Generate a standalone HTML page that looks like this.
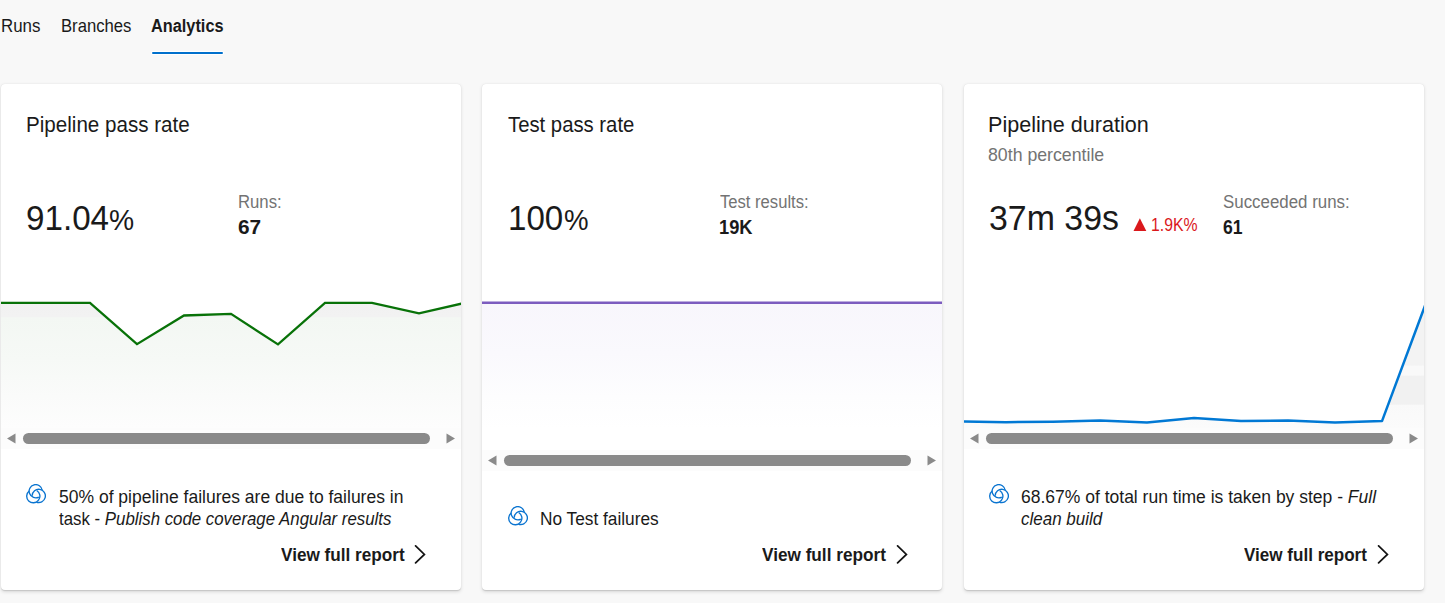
<!DOCTYPE html>
<html><head><meta charset="utf-8"><title>Analytics</title>
<style>
*{box-sizing:border-box;margin:0;padding:0}
html,body{width:1445px;height:603px;overflow:hidden;background:#f8f8f8;font-family:"Liberation Sans",sans-serif}
.t{position:absolute;white-space:nowrap;line-height:1}
.ic{position:absolute;display:block}
.card{position:absolute;top:84px;width:460px;height:506px;background:#fff;border-radius:4px;overflow:hidden;
 box-shadow:0 1.6px 3.6px rgba(0,0,0,.13),0 0.3px 0.9px rgba(0,0,0,.11)}
.chart{position:absolute;left:0;top:0}
.track{position:absolute;left:0;width:460px;height:21px;background:#fcfcfc}
.thumb{position:absolute;height:11px;border-radius:6px;background:#8a8a8a}
.tabline{position:absolute;left:152px;top:52px;width:71px;height:2px;border-radius:1px;background:#0070cc;box-shadow:0 0 0 1px #fff}
</style></head><body>
<div class="t" style="left:1.00px;top:16.75px;font-size:18.25px;font-weight:400;color:#1a1a1a;font-style:normal;transform:scaleX(0.925);transform-origin:0 0;">Runs</div>
<div class="t" style="left:60.50px;top:16.75px;font-size:18.25px;font-weight:400;color:#1a1a1a;font-style:normal;transform:scaleX(0.913);transform-origin:0 0;">Branches</div>
<div class="t" style="left:151.00px;top:16.75px;font-size:18.25px;font-weight:700;color:#1a1a1a;font-style:normal;transform:scaleX(0.894);transform-origin:0 0;">Analytics</div>
<div class="tabline"></div>
<div class="card" style="left:1px">
<svg class="chart" width="460" height="506" viewBox="0 0 460 506"><defs><linearGradient id="g1" gradientUnits="userSpaceOnUse" x1="0" y1="218" x2="0" y2="344"><stop offset="0" stop-color="#f1f1f1"/><stop offset="0.115" stop-color="#f2f2f2"/><stop offset="0.125" stop-color="#f3f7f3"/><stop offset="0.45" stop-color="#f6f9f6"/><stop offset="0.75" stop-color="#fafbfa"/><stop offset="1" stop-color="#fdfdfd"/></linearGradient></defs><polygon points="-5.0,218.8 42.0,218.8 89.0,218.8 136.0,260.2 183.0,231.5 230.0,229.9 277.0,260.4 324.0,218.8 371.0,218.8 418.0,229.4 465.0,218.6 465.0,344 -5.0,344" fill="url(#g1)"/><polyline points="-5.0,218.8 42.0,218.8 89.0,218.8 136.0,260.2 183.0,231.5 230.0,229.9 277.0,260.4 324.0,218.8 371.0,218.8 418.0,229.4 465.0,218.6" fill="none" stroke="#087208" stroke-width="2.3" stroke-linejoin="miter"/></svg>
<div class="track" style="top:344px;"></div>
<svg class="ic" style="left:5px;top:349px" width="10" height="11" viewBox="0 0 10 11"><path d="M9.5 0.5 L9.5 10.5 L1 5.5 Z" fill="#8a8a8a"/></svg>
<div class="thumb" style="left:22px;top:349px;width:407px;"></div>
<svg class="ic" style="left:445px;top:349px" width="10" height="11" viewBox="0 0 10 11"><path d="M0.5 0.5 L0.5 10.5 L9 5.5 Z" fill="#8a8a8a"/></svg>
</div>
<div class="card" style="left:482px">
<svg class="chart" width="460" height="506" viewBox="0 0 460 506"><defs><linearGradient id="g2" gradientUnits="userSpaceOnUse" x1="0" y1="218" x2="0" y2="345"><stop offset="0" stop-color="#f8f6fc"/><stop offset="0.4" stop-color="#faf9fd"/><stop offset="0.75" stop-color="#fdfdfe"/><stop offset="1" stop-color="#ffffff"/></linearGradient></defs><rect x="0" y="219" width="460" height="148" fill="url(#g2)"/><line x1="0" y1="218.8" x2="460" y2="218.8" stroke="#7c5cbf" stroke-width="2.5"/></svg>
<div class="track" style="top:366px;"></div>
<svg class="ic" style="left:5px;top:371px" width="10" height="11" viewBox="0 0 10 11"><path d="M9.5 0.5 L9.5 10.5 L1 5.5 Z" fill="#8a8a8a"/></svg>
<div class="thumb" style="left:22px;top:371px;width:407px;"></div>
<svg class="ic" style="left:445px;top:371px" width="10" height="11" viewBox="0 0 10 11"><path d="M0.5 0.5 L0.5 10.5 L9 5.5 Z" fill="#8a8a8a"/></svg>
</div>
<div class="card" style="left:964px">
<svg class="chart" width="460" height="506" viewBox="0 0 460 506"><defs><linearGradient id="g3" gradientUnits="userSpaceOnUse" x1="0" y1="218" x2="0" y2="344"><stop offset="0" stop-color="#f3f3f3"/><stop offset="0.5" stop-color="#f3f3f3"/><stop offset="0.51" stop-color="#f9f9f9"/><stop offset="0.58" stop-color="#f9f9f9"/><stop offset="0.59" stop-color="#f1f1f1"/><stop offset="0.81" stop-color="#f1f1f1"/><stop offset="0.82" stop-color="#f9f9f9"/><stop offset="1" stop-color="#fbfbfb"/></linearGradient></defs><polygon points="-5.0,337.5 42.0,338.2 89.0,337.8 136.0,336.5 183.0,338.6 230.0,333.9 277.0,337.1 324.0,336.6 371.0,338.6 418.0,337.1 465.0,211.0 465.0,344 -5.0,344" fill="url(#g3)"/><polyline points="-5.0,337.5 42.0,338.2 89.0,337.8 136.0,336.5 183.0,338.6 230.0,333.9 277.0,337.1 324.0,336.6 371.0,338.6 418.0,337.1 465.0,211.0" fill="none" stroke="#0078d4" stroke-width="2.5" stroke-linejoin="round"/></svg>
<div class="track" style="top:344px;"></div>
<svg class="ic" style="left:5px;top:349px" width="10" height="11" viewBox="0 0 10 11"><path d="M9.5 0.5 L9.5 10.5 L1 5.5 Z" fill="#8a8a8a"/></svg>
<div class="thumb" style="left:22px;top:349px;width:407px;"></div>
<svg class="ic" style="left:445px;top:349px" width="10" height="11" viewBox="0 0 10 11"><path d="M0.5 0.5 L0.5 10.5 L9 5.5 Z" fill="#8a8a8a"/></svg>
</div>
<div class="t" style="left:25.70px;top:115.20px;font-size:21.5px;font-weight:400;color:#1a1a1a;font-style:normal;transform:scaleX(0.958);transform-origin:0 0;">Pipeline pass rate</div>
<div class="t" style="left:25.50px;top:201.25px;font-size:35.5px;font-weight:400;color:#1a1a1a;font-style:normal;transform:scaleX(0.935);transform-origin:0 0;">91.04</div>
<div class="t" style="left:108.70px;top:205.12px;font-size:29.75px;font-weight:400;color:#1a1a1a;font-style:normal;transform:scaleX(0.95);transform-origin:0 0;">%</div>
<div class="t" style="left:237.90px;top:193.35px;font-size:18.25px;font-weight:400;color:#737373;font-style:normal;transform:scaleX(0.916);transform-origin:0 0;">Runs:</div>
<div class="t" style="left:238.10px;top:216.42px;font-size:21.0px;font-weight:700;color:#1a1a1a;font-style:normal;transform:scaleX(0.991);transform-origin:0 0;">67</div>
<svg class="ic" style="left:26px;top:484px" width="20" height="20" viewBox="0 0 20 20"><path d="M12.82 13.04 A6.6 6.6 0 1 1 16.26 6.30" fill="none" stroke="#0a74d0" stroke-width="1.35" stroke-linecap="butt"/><path d="M6.18 11.72 A6.6 6.6 0 1 1 10.35 18.04" fill="none" stroke="#0a74d0" stroke-width="1.35" stroke-linecap="butt"/><path d="M10.68 6.52 A6.6 6.6 0 1 1 3.13 7.07" fill="none" stroke="#0a74d0" stroke-width="1.35" stroke-linecap="butt"/></svg>
<div class="t" style="left:58.60px;top:488.45px;font-size:18.25px;font-weight:400;color:#1a1a1a;font-style:normal;transform:scaleX(0.959);transform-origin:0 0;">50% of pipeline failures are due to failures in</div>
<div class="t" style="left:59.10px;top:510.45px;font-size:18.25px;font-weight:400;color:#1a1a1a;font-style:normal;transform:scaleX(0.922);transform-origin:0 0;">task - <i>Publish code coverage Angular results</i></div>
<div class="t" style="left:280.80px;top:545.85px;font-size:18.25px;font-weight:700;color:#1a1a1a;font-style:normal;transform:scaleX(0.94);transform-origin:0 0;">View full report</div>
<svg class="ic" style="left:414px;top:545px" width="12" height="19" viewBox="0 0 12 19"><path d="M1.6 0.9 L10.4 9.4 L1.6 17.9" fill="none" stroke="#141414" stroke-width="1.75" stroke-linecap="round" stroke-linejoin="miter"/></svg>
<div class="t" style="left:508.00px;top:114.71px;font-size:21.25px;font-weight:400;color:#1a1a1a;font-style:normal;transform:scaleX(0.955);transform-origin:0 0;">Test pass rate</div>
<div class="t" style="left:507.70px;top:200.36px;font-size:35.25px;font-weight:400;color:#1a1a1a;font-style:normal;transform:scaleX(0.938);transform-origin:0 0;">100</div>
<div class="t" style="left:564.00px;top:205.02px;font-size:29.75px;font-weight:400;color:#1a1a1a;font-style:normal;transform:scaleX(0.929);transform-origin:0 0;">%</div>
<div class="t" style="left:719.80px;top:193.35px;font-size:18.25px;font-weight:400;color:#737373;font-style:normal;transform:scaleX(0.91);transform-origin:0 0;">Test results:</div>
<div class="t" style="left:719.00px;top:218.48px;font-size:19.75px;font-weight:700;color:#1a1a1a;font-style:normal;transform:scaleX(0.926);transform-origin:0 0;">19K</div>
<svg class="ic" style="left:507.5px;top:506px" width="20" height="20" viewBox="0 0 20 20"><path d="M12.82 13.04 A6.6 6.6 0 1 1 16.26 6.30" fill="none" stroke="#0a74d0" stroke-width="1.35" stroke-linecap="butt"/><path d="M6.18 11.72 A6.6 6.6 0 1 1 10.35 18.04" fill="none" stroke="#0a74d0" stroke-width="1.35" stroke-linecap="butt"/><path d="M10.68 6.52 A6.6 6.6 0 1 1 3.13 7.07" fill="none" stroke="#0a74d0" stroke-width="1.35" stroke-linecap="butt"/></svg>
<div class="t" style="left:540.10px;top:510.15px;font-size:18.25px;font-weight:400;color:#1a1a1a;font-style:normal;transform:scaleX(0.946);transform-origin:0 0;">No Test failures</div>
<div class="t" style="left:761.60px;top:545.85px;font-size:18.25px;font-weight:700;color:#1a1a1a;font-style:normal;transform:scaleX(0.942);transform-origin:0 0;">View full report</div>
<svg class="ic" style="left:895.5px;top:545px" width="12" height="19" viewBox="0 0 12 19"><path d="M1.6 0.9 L10.4 9.4 L1.6 17.9" fill="none" stroke="#141414" stroke-width="1.75" stroke-linecap="round" stroke-linejoin="miter"/></svg>
<div class="t" style="left:987.70px;top:115.31px;font-size:21.25px;font-weight:400;color:#1a1a1a;font-style:normal;transform:scaleX(1.016);transform-origin:0 0;">Pipeline duration</div>
<div class="t" style="left:988.40px;top:146.57px;font-size:17.75px;font-weight:400;color:#737373;font-style:normal;transform:scaleX(0.998);transform-origin:0 0;">80th percentile</div>
<div class="t" style="left:988.50px;top:200.27px;font-size:35.0px;font-weight:400;color:#1a1a1a;font-style:normal;transform:scaleX(0.968);transform-origin:0 0;">37m 39s</div>
<svg class="ic" style="left:1133px;top:218px" width="14" height="13" viewBox="0 0 14 13"><path d="M6.9 0.3 L13.3 12.9 L0.5 12.9 Z" fill="#da181c"/></svg>
<div class="t" style="left:1151.00px;top:215.95px;font-size:18.25px;font-weight:400;color:#da181c;font-style:normal;transform:scaleX(0.865);transform-origin:0 0;">1.9K%</div>
<div class="t" style="left:1222.80px;top:193.15px;font-size:18.25px;font-weight:400;color:#737373;font-style:normal;transform:scaleX(0.925);transform-origin:0 0;">Succeeded runs:</div>
<div class="t" style="left:1222.80px;top:217.25px;font-size:20.5px;font-weight:700;color:#1a1a1a;font-style:normal;transform:scaleX(0.857);transform-origin:0 0;">61</div>
<svg class="ic" style="left:989px;top:484px" width="20" height="20" viewBox="0 0 20 20"><path d="M12.82 13.04 A6.6 6.6 0 1 1 16.26 6.30" fill="none" stroke="#0a74d0" stroke-width="1.35" stroke-linecap="butt"/><path d="M6.18 11.72 A6.6 6.6 0 1 1 10.35 18.04" fill="none" stroke="#0a74d0" stroke-width="1.35" stroke-linecap="butt"/><path d="M10.68 6.52 A6.6 6.6 0 1 1 3.13 7.07" fill="none" stroke="#0a74d0" stroke-width="1.35" stroke-linecap="butt"/></svg>
<div class="t" style="left:1020.90px;top:488.45px;font-size:18.25px;font-weight:400;color:#1a1a1a;font-style:normal;transform:scaleX(0.959);transform-origin:0 0;">68.67% of total run time is taken by step - <i>Full</i></div>
<div class="t" style="left:1020.90px;top:510.45px;font-size:18.25px;font-weight:400;color:#1a1a1a;font-style:normal;transform:scaleX(0.93);transform-origin:0 0;"><i>clean build</i></div>
<div class="t" style="left:1243.50px;top:545.85px;font-size:18.25px;font-weight:700;color:#1a1a1a;font-style:normal;transform:scaleX(0.935);transform-origin:0 0;">View full report</div>
<svg class="ic" style="left:1377px;top:545px" width="12" height="19" viewBox="0 0 12 19"><path d="M1.6 0.9 L10.4 9.4 L1.6 17.9" fill="none" stroke="#141414" stroke-width="1.75" stroke-linecap="round" stroke-linejoin="miter"/></svg>
</body></html>
